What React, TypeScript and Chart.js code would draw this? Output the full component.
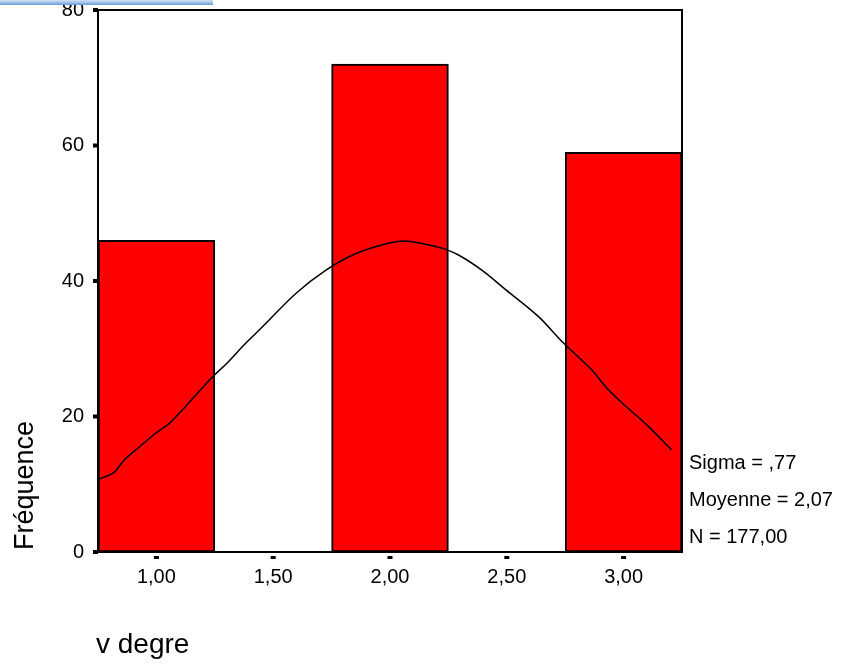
import React, { useEffect, useRef } from 'react';
import { Chart, registerables } from 'chart.js';

Chart.register(...registerables);

// Histogram bins (centres) and frequencies
const categories = [1, 2, 3];
const frequencies = [46, 72, 59];

// Normal curve
const curveX = [0.756, 0.821, 0.855, 0.927, 1.0, 1.056, 1.162, 1.239, 1.303, 1.376, 1.453, 1.598, 1.726, 1.838, 1.953, 2.06, 2.167, 2.244, 2.295, 2.393, 2.496, 2.637, 2.744, 2.863, 2.936, 3.107, 3.205];
const curveY = [10.8, 11.8, 13.3, 15.5, 17.6, 19.0, 22.9, 25.8, 27.9, 30.6, 33.2, 38.2, 41.6, 43.8, 45.2, 45.9, 45.3, 44.6, 43.8, 41.6, 38.7, 34.7, 30.8, 26.9, 23.9, 18.5, 15.1];

// Axis ticks
const xTickValues = [1, 1.5, 2, 2.5, 3];
const xTickLabels = ['1,00', '1,50', '2,00', '2,50', '3,00'];
const yTickValues = [0, 20, 40, 60, 80];

const statLines = ['Sigma = ,77', 'Moyenne = 2,07', 'N = 177,00'];
const xTitle = 'v degre';
const yTitle = 'Fréquence';

const FONT = '"Liberation Sans", Arial, sans-serif';

const boxPlugin = {
  id: 'boxAndTicks',
  afterDatasetsDraw(chart: any) {
    const { ctx, chartArea, scales } = chart;
    const { left, top, right, bottom } = chartArea;
    ctx.save();
    ctx.strokeStyle = '#000';
    ctx.lineWidth = 2;
    ctx.strokeRect(left, top, right - left, bottom - top);
    ctx.fillStyle = '#000';
    scales.y.ticks.forEach((t: any) => {
      const py = scales.y.getPixelForValue(t.value);
      ctx.fillRect(left - 5, py - 2, 5, 4);
    });
    scales.x.ticks.forEach((t: any) => {
      const px = scales.x.getPixelForValue(t.value);
      ctx.fillRect(px - 2.5, bottom + 4, 5, 3);
    });
    ctx.restore();
  },
};

export default function App() {
  const ref = useRef<HTMLCanvasElement | null>(null);

  useEffect(() => {
    if (!ref.current) return;
    const chart = new Chart(ref.current, {
      type: 'bar',
      data: {
        datasets: [
          {
            type: 'line',
            data: curveX.map((x, i) => ({ x, y: curveY[i] })),
            borderColor: '#000',
            borderWidth: 1.5,
            pointRadius: 0,
            cubicInterpolationMode: 'monotone',
            fill: false,
            order: 0,
          } as any,
          {
            type: 'bar',
            data: categories.map((x, i) => ({ x, y: frequencies[i] })),
            backgroundColor: '#ff0000',
            borderColor: '#000',
            borderWidth: 2,
            borderSkipped: false,
            barPercentage: 1,
            categoryPercentage: 1,
            order: 1,
          } as any,
        ],
      },
      options: {
        responsive: false,
        animation: false,
        layout: { padding: { top: 10, right: 166, bottom: 0, left: 0 } },
        plugins: { legend: { display: false }, tooltip: { enabled: false } },
        scales: {
          x: {
            type: 'linear',
            min: 0.75,
            max: 3.25,
            offset: false,
            grid: { display: false, drawTicks: false, offset: false },
            border: { display: false },
            afterBuildTicks: (s: any) => {
              s.ticks = xTickValues.map((v) => ({ value: v }));
            },
            afterFit: (s: any) => {
              s.height = 112;
              s.paddingLeft = 0;
              s.paddingRight = 0;
            },
            ticks: {
              padding: 15,
              color: '#000',
              autoSkip: false,
              maxRotation: 0,
              font: { family: FONT, size: 20, lineHeight: 1 },
              callback: (v: any) => {
                const i = xTickValues.indexOf(Number(v));
                return i >= 0 ? xTickLabels[i] : '';
              },
            },
          },
          y: {
            min: 0,
            max: 80,
            grid: { display: false, drawTicks: false },
            border: { display: false },
            afterBuildTicks: (s: any) => {
              s.ticks = yTickValues.map((v) => ({ value: v }));
            },
            afterFit: (s: any) => {
              s.width = 98;
              s.paddingTop = 0;
              s.paddingBottom = 0;
            },
            ticks: {
              padding: 14,
              color: '#000',
              font: { family: FONT, size: 20, lineHeight: 1 },
              callback: (v: any) => String(v),
            },
          },
        },
      } as any,
      plugins: [boxPlugin],
    });
    return () => chart.destroy();
  }, []);

  const statTops = [452, 489, 526];

  return (
    <div style={{ position: 'absolute', left: 0, top: 0, width: 848, height: 664, background: '#fff', overflow: 'hidden', fontFamily: FONT, color: '#000' }}>
      <canvas ref={ref} width={848} height={664} style={{ position: 'absolute', left: 0, top: 0 }} />
      <div style={{ position: 'absolute', left: 0, top: 0, width: 213, height: 5, background: 'linear-gradient(to bottom, #d3e2f5, #a2c0e8 50%, #6a98d5)' }} />
      {statLines.map((s, i) => (
        <div key={s} style={{ position: 'absolute', left: 689, top: statTops[i], fontSize: 20, lineHeight: '20px', whiteSpace: 'nowrap' }}>{s}</div>
      ))}
      <div style={{ position: 'absolute', left: 96, top: 630, fontSize: 28, lineHeight: '28px', whiteSpace: 'nowrap' }}>{xTitle}</div>
      <div style={{ position: 'absolute', left: 10, top: 550, fontSize: 27, lineHeight: '28px', whiteSpace: 'nowrap', transform: 'rotate(-90deg)', transformOrigin: '0 0' }}>{yTitle}</div>
    </div>
  );
}
